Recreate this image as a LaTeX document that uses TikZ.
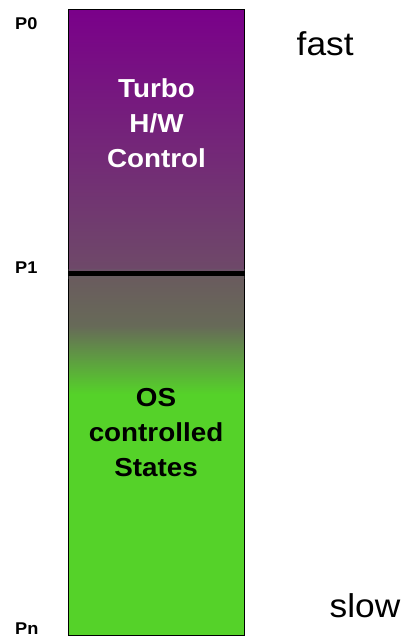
\documentclass[tikz,border=0pt]{standalone}
\usepackage{fontspec}
\setmainfont{Liberation Sans}[FakeStretch=1.07]
\definecolor{turbotop}{RGB}{122,0,138}
\definecolor{turbobot}{RGB}{110,74,104}
\definecolor{osgray}{RGB}{106,90,94}
\definecolor{osmid}{RGB}{103,106,88}
\definecolor{osgreen}{RGB}{85,210,41}
\tikzset{
  barlabel/.style={font=\fontsize{26}{35}\selectfont\bfseries, align=center, anchor=base, inner sep=0pt},
  plabel/.style={font=\fontsize{17}{20}\selectfont\bfseries, anchor=base west, inner sep=0pt},
  speed/.style={font=\fontsize{33}{38}\selectfont, anchor=base west, inner sep=0pt}
}
\begin{document}
\begin{tikzpicture}[x=1pt,y=-1pt]
  \useasboundingbox (0,0) rectangle (405,637);
  % upper (turbo) section
  \shade[top color=turbotop, bottom color=turbobot] (68,9) rectangle (244.5,273);
  % lower (OS controlled) section
  \shade[top color=osgray, bottom color=osmid] (68,273) rectangle (244.5,326);
  \shade[top color=osmid, bottom color=osgreen] (68,326) rectangle (244.5,394);
  \fill[osgreen] (68,393.5) rectangle (244.5,635.5);
  \draw[black, line width=0.8pt] (68,9) rectangle (244.5,635.5);
  % P1 boundary with soft shadow
  \draw[black!60, opacity=0.25, line width=10pt] (68,273.5) -- (244.5,273.5);
  \coordinate (p1l) at (68,273.5);
  \coordinate (p1r) at (244.5,273.5);
  \draw[black, line width=4.7pt] (p1l) -- (p1r);
  % texts inside the bar (anchored on the baseline of the last line)
  \node[barlabel, text=white] (turbo) at (156.5,167.3) {Turbo\\H/W\\Control};
  \node[barlabel, text=black] (os) at (156,476.7) {OS\\controlled\\States};
  % P-state labels
  \node[plabel] (p0) at (15,29) {P0};
  \node[plabel] (p1) at (15,273.5) {P1};
  \node[plabel] (pn) at (15,634) {Pn};
  % speed labels
  \node[speed] (fast) at (296.5,55) {fast};
  \node[speed] (slow) at (329.5,617) {slow};
\end{tikzpicture}
\end{document}
